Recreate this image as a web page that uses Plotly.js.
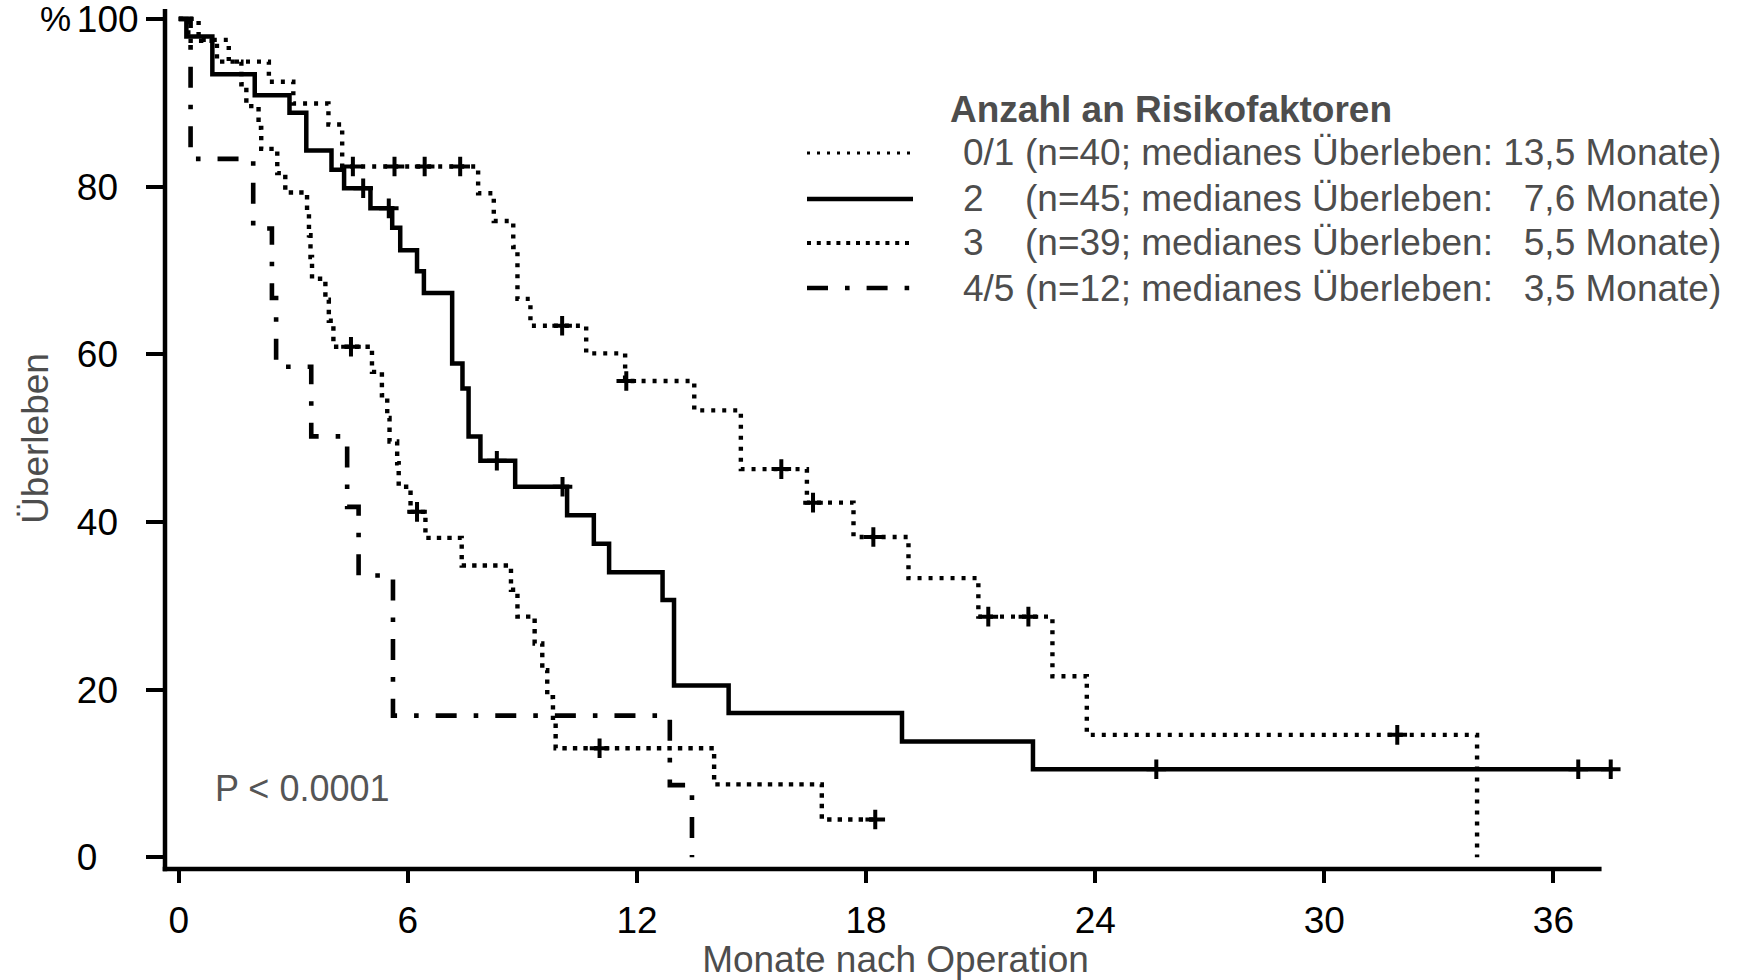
<!DOCTYPE html>
<html>
<head>
<meta charset="utf-8">
<script src="https://cdn.plot.ly/plotly-3.0.1.min.js"></script>
<style>
html,body{margin:0;padding:0;background:#ffffff;}
#chart{width:1741px;height:980px;}
</style>
</head>
<body>
<div id="chart"></div>
<script>
// ---------- data ----------
const groupLabels = ['0/1', '2', '3', '4/5'];
const groupInfo = [
  '(n=40; medianes Überleben: 13,5 Monate)',
  '(n=45; medianes Überleben: \u20077,6 Monate)',
  '(n=39; medianes Überleben: \u20075,5 Monate)',
  '(n=12; medianes Überleben: \u20073,5 Monate)'
];
const legendTitle = 'Anzahl an Risikofaktoren';
const pValueText = 'P < 0.0001';
const yUnitText = '%';

// group 0/1
const time01 = [0, 0.52, 1.31, 2.36, 3.0, 3.92, 4.28, 7.84, 8.25, 8.76, 8.87, 9.21, 10.67, 11.69, 13.5, 14.72, 16.45, 17.67, 19.11, 20.94, 22.88, 23.78, 34.0];
const surv01 = [100, 97.5, 94.9, 92.5, 89.9, 87.4, 82.4, 79.2, 75.9, 72.8, 66.6, 63.4, 60.1, 56.8, 53.3, 46.3, 42.3, 38.2, 33.3, 28.7, 21.6, 14.6, 0];
const censT01 = [4.56, 5.65, 6.44, 7.37, 10.04, 11.72, 15.78, 16.61, 18.19, 21.2, 22.25, 31.91];
const censS01 = [82.4, 82.4, 82.4, 82.4, 63.4, 56.8, 46.3, 42.3, 38.2, 28.7, 28.7, 14.6];

// group 2
const time2 = [0, 0.2, 0.88, 1.99, 2.9, 3.34, 4.0, 4.33, 5.02, 5.59, 5.8, 6.24, 6.42, 7.16, 7.43, 7.59, 7.9, 8.81, 10.17, 10.87, 11.27, 12.67, 12.97, 14.4, 18.94, 22.37, 37.55];
const surv2 = [100, 97.9, 93.4, 90.9, 88.8, 84.3, 82.0, 79.8, 77.4, 75.1, 72.4, 69.9, 67.3, 58.9, 55.9, 50.2, 47.3, 44.2, 40.8, 37.4, 34.0, 30.7, 20.5, 17.2, 13.8, 10.5, 10.5];
const censT2 = [4.83, 5.5, 8.33, 10.05, 25.6, 36.65, 37.5];
const censS2 = [79.8, 77.4, 47.3, 44.2, 10.5, 10.5, 10.5];

// group 3
const time3 = [0, 0.25, 1.0, 1.64, 1.77, 2.09, 2.16, 2.58, 2.79, 3.36, 3.41, 3.45, 3.49, 3.84, 3.93, 4.05, 5.06, 5.32, 5.46, 5.52, 5.72, 5.76, 6.07, 6.46, 7.41, 8.7, 8.87, 9.32, 9.52, 9.65, 9.8, 9.87, 14.02, 16.84, 18.24];
const surv3 = [100, 97.4, 94.9, 92.2, 89.6, 87.0, 84.5, 81.6, 79.3, 76.8, 74.2, 71.6, 69.0, 66.5, 64.0, 60.9, 57.9, 55.1, 52.4, 49.6, 47.0, 44.2, 41.2, 38.1, 34.8, 31.9, 28.7, 25.5, 22.3, 19.1, 16.0, 13.0, 8.7, 4.5, 4.5];
const censT3 = [4.51, 6.24, 11.02, 18.24];
const censS3 = [60.9, 41.2, 13.0, 4.5];

// group 4/5
const time45 = [0, 0.31, 1.95, 2.44, 2.55, 3.47, 4.41, 4.71, 5.61, 12.86, 13.44];
const surv45 = [100, 83.3, 75.0, 66.7, 58.5, 50.2, 41.8, 33.6, 16.9, 8.6, 0];

// axis ticks (labels are left-aligned in the original, padded with figure spaces)
const xTickVals = [0, 6, 12, 18, 24, 30, 36];
const xTickText = ['0', '6', '12', '18', '24', '30', '36'];
const yTickVals = [0, 20, 40, 60, 80, 100];
const yTickText = ['0\u2007\u2007', '20\u2007', '40\u2007', '60\u2007', '80\u2007', '100'];

const xTitle = 'Monate nach Operation';
const yTitle = 'Überleben\u2002';

// ---------- layout geometry ----------
const FIG_W = 1741, FIG_H = 980;
const M = {l: 165, r: 115, t: 8, b: 111};
const PW = FIG_W - M.l - M.r, PH = FIG_H - M.t - M.b;
const xRange = [-0.36, 37.9];
const yRange = [-1.4, 101.3];
const xAxisEnd = 37.26;
const px = X => (X - M.l) / PW;
const py = Y => (M.t + PH - Y) / PH;

const FONT = 'Liberation Sans, Arial, Helvetica, sans-serif';
const GREY = '#4d4d4d';

const lineStyles = [
  {width: 4.4, dash: '4px,7px'},
  {width: 4.5, dash: 'solid'},
  {width: 4.4, dash: '4.4px,6.1px'},
  {width: 4.6, dash: '21px,17px,4.6px,17px'}
];

function stepTrace(t, s, style, uid) {
  return {
    type: 'scatter', mode: 'lines', x: t, y: s, uid: uid,
    line: {shape: 'hv', color: '#000', width: style.width, dash: style.dash},
    hoverinfo: 'skip', showlegend: false
  };
}
function censorTrace(t, s, uid) {
  return {
    type: 'scatter', mode: 'markers', x: t, y: s, uid: uid,
    marker: {symbol: 'cross-thin', size: 14, color: '#000', line: {color: '#000', width: 4}},
    hoverinfo: 'skip', showlegend: false, cliponaxis: false
  };
}

const data = [
  stepTrace(time45, surv45, lineStyles[3], 'k45'),
  stepTrace(time3, surv3, lineStyles[2], 'k3'),
  stepTrace(time2, surv2, lineStyles[1], 'k2'),
  stepTrace(time01, surv01, lineStyles[0], 'k01'),
  censorTrace(censT3, censS3, 'c3'),
  censorTrace(censT2, censS2, 'c2'),
  censorTrace(censT01, censS01, 'c01')
];

// axis lines (drawn as shapes so the curve may run past the axis end)
const shapes = [
  {type: 'line', xref: 'paper', yref: 'paper', x0: -2.3 / PW, x1: (xAxisEnd - xRange[0]) / (xRange[1] - xRange[0]), y0: 0, y1: 0,
   line: {color: '#000', width: 4.5}},
  {type: 'line', xref: 'paper', yref: 'paper', x0: 0, x1: 0, y0: -2.3 / PH, y1: py(9),
   line: {color: '#000', width: 4.5}}
];

// legend samples + texts
const legendRowY = [153, 199, 243, 288];
const sampleStyles = [
  {width: 3.2, dash: '3px,7px'},
  {width: 4.5, dash: 'solid'},
  {width: 4, dash: '4px,5.8px'},
  {width: 4.6, dash: '21px,17px,4.6px,17px'}
];
const annotations = [];
legendRowY.forEach((Y, i) => {
  shapes.push({type: 'line', xref: 'paper', yref: 'paper', x0: px(807), x1: px(913), y0: py(Y), y1: py(Y),
    line: {color: '#000', width: sampleStyles[i].width, dash: sampleStyles[i].dash}});
  annotations.push({xref: 'paper', yref: 'paper', x: px(961), y: py(Y), xanchor: 'left', yanchor: 'middle',
    text: groupLabels[i], showarrow: false, font: {family: FONT, size: 37, color: GREY}});
  annotations.push({xref: 'paper', yref: 'paper', x: px(1023), y: py(Y), xanchor: 'left', yanchor: 'middle',
    text: groupInfo[i], showarrow: false, font: {family: FONT, size: 37, color: GREY}});
});
annotations.push({xref: 'paper', yref: 'paper', x: px(948), y: py(109), xanchor: 'left', yanchor: 'middle',
  text: '<b>' + legendTitle + '</b>', showarrow: false, font: {family: FONT, size: 37, color: GREY}});
annotations.push({xref: 'paper', yref: 'paper', x: px(213), y: py(788), xanchor: 'left', yanchor: 'middle',
  text: pValueText, showarrow: false, font: {family: FONT, size: 36, color: '#555555'}});
annotations.push({xref: 'paper', yref: 'y', x: px(38), y: 100, xanchor: 'left', yanchor: 'middle',
  text: yUnitText, showarrow: false, font: {family: FONT, size: 35, color: '#000'}});

const layout = {
  width: FIG_W, height: FIG_H,
  margin: M,
  paper_bgcolor: '#ffffff', plot_bgcolor: '#ffffff',
  showlegend: false,
  font: {family: FONT, color: '#000'},
  xaxis: {
    range: xRange, showgrid: false, zeroline: false, showline: false,
    tickmode: 'array', tickvals: xTickVals, ticktext: xTickText,
    ticks: 'outside', ticklen: 13, tickwidth: 4, tickcolor: '#000',
    tickfont: {family: FONT, size: 37, color: '#000'},
    ticklabelstandoff: 6, ticklabeloverflow: 'allow',
    title: {text: xTitle, font: {family: FONT, size: 37, color: GREY}, standoff: 6},
    fixedrange: true
  },
  yaxis: {
    range: yRange, showgrid: false, zeroline: false, showline: false,
    tickmode: 'array', tickvals: yTickVals, ticktext: yTickText,
    ticks: 'outside', ticklen: 18, tickwidth: 4, tickcolor: '#000',
    tickfont: {family: FONT, size: 37, color: '#000'},
    ticklabeloverflow: 'allow',
    title: {text: yTitle, font: {family: FONT, size: 37, color: GREY}, standoff: 16},
    fixedrange: true
  },
  shapes: shapes,
  annotations: annotations
};

Plotly.newPlot('chart', data, layout, {displayModeBar: false, staticPlot: true});
</script>
</body>
</html>
